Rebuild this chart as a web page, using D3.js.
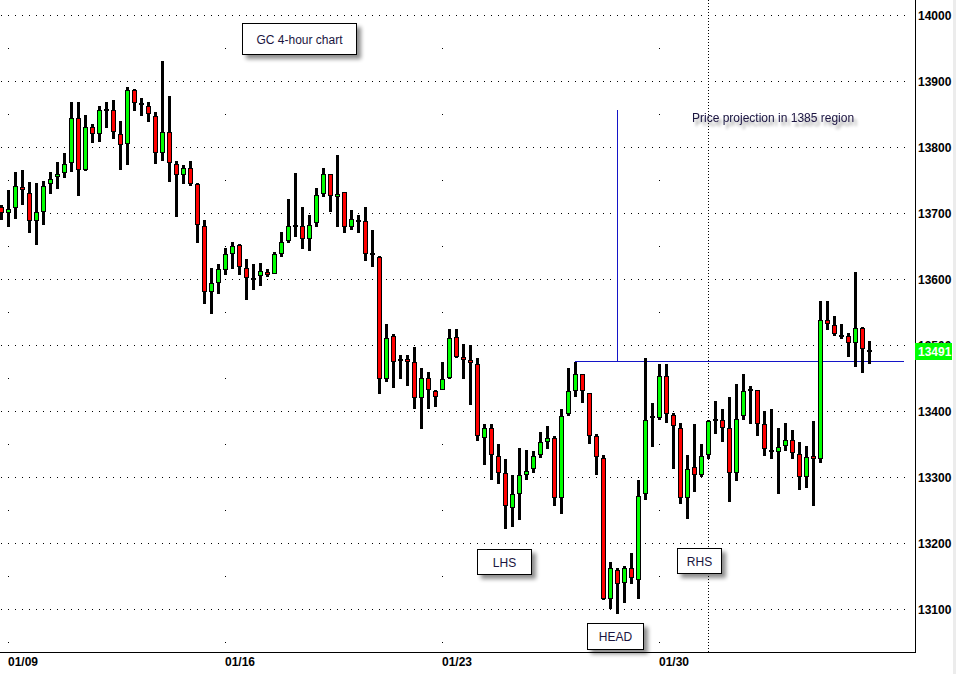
<!DOCTYPE html>
<html><head><meta charset="utf-8">
<script src="https://cdn.jsdelivr.net/npm/d3@7/dist/d3.min.js"></script>
<style>body{margin:0;background:#fff;} svg{display:block;}</style>
</head><body><svg id="c" width="956" height="674"></svg>
<script>
// ---- data (4-hour bars, index 0..124) ----
const open  = [13710,13700,13708,13740,13731,13688,13702,13744,13755,13761,13776,13844,13765,13831,13820,13857,13857,13820,13805,13887,13866,13863,13847,13791,13823,13775,13758,13769,13744,13680,13581,13594,13614,13638,13652,13617,13602,13605,13611,13608,13638,13658,13680,13680,13661,13685,13729,13759,13726,13732,13679,13689,13689,13638,13634,13449,13514,13477,13479,13474,13420,13450,13430,13432,13450,13512,13482,13477,13471,13360,13374,13333,13306,13254,13275,13304,13312,13334,13354,13360,13269,13396,13431,13456,13428,13362,13330,13116,13160,13140,13162,13145,13274,13392,13390,13454,13395,13375,13269,13315,13304,13334,13387,13387,13374,13307,13393,13433,13433,13380,13340,13339,13348,13356,13336,13301,13333,13327,13538,13530,13515,13514,13503,13526,13492];
const high  = [13712,13736,13763,13766,13748,13746,13749,13763,13778,13792,13869,13869,13849,13836,13862,13869,13872,13840,13892,13889,13875,13869,13854,13931,13877,13779,13773,13779,13746,13690,13617,13623,13647,13657,13654,13631,13623,13624,13616,13641,13671,13721,13761,13709,13698,13739,13768,13760,13789,13733,13705,13697,13709,13674,13636,13532,13517,13486,13486,13497,13465,13459,13432,13474,13524,13524,13502,13500,13480,13380,13380,13350,13328,13303,13345,13342,13340,13368,13377,13362,13403,13465,13475,13457,13428,13365,13334,13171,13163,13166,13186,13296,13480,13412,13471,13471,13398,13383,13334,13381,13350,13387,13416,13404,13421,13442,13456,13439,13433,13401,13403,13374,13383,13371,13353,13348,13385,13567,13567,13544,13533,13518,13611,13527,13506];
const low   = [13690,13679,13692,13712,13670,13652,13682,13730,13737,13753,13762,13726,13764,13807,13808,13829,13812,13765,13773,13855,13848,13838,13774,13780,13747,13694,13744,13741,13655,13563,13548,13578,13607,13616,13607,13569,13584,13590,13603,13608,13634,13655,13664,13646,13643,13679,13724,13702,13679,13670,13674,13670,13627,13619,13426,13444,13436,13449,13438,13404,13373,13404,13406,13432,13449,13480,13449,13409,13355,13319,13296,13290,13221,13224,13236,13296,13306,13330,13343,13257,13245,13393,13422,13413,13350,13304,13114,13100,13093,13109,13139,13115,13265,13346,13387,13383,13313,13260,13237,13277,13301,13328,13366,13354,13262,13295,13387,13381,13363,13333,13327,13275,13340,13328,13281,13284,13256,13321,13523,13514,13509,13482,13467,13458,13471];
const close = [13700,13707,13742,13735,13688,13702,13742,13752,13760,13775,13844,13765,13831,13820,13857,13856,13823,13804,13887,13867,13865,13850,13791,13823,13776,13758,13769,13744,13682,13581,13594,13615,13639,13650,13618,13602,13601,13612,13608,13638,13656,13680,13680,13661,13682,13727,13759,13726,13730,13679,13691,13689,13638,13638,13449,13511,13474,13477,13474,13420,13450,13432,13421,13449,13511,13483,13477,13473,13362,13375,13334,13307,13256,13274,13303,13309,13333,13353,13359,13269,13393,13430,13457,13430,13363,13331,13116,13162,13139,13163,13147,13272,13387,13392,13454,13396,13377,13269,13313,13304,13333,13386,13387,13375,13307,13389,13431,13433,13381,13343,13340,13346,13356,13337,13301,13331,13327,13538,13532,13517,13514,13503,13526,13494,13491];

const dateTickIndex  = [1, 32, 63, 94];
const dateTickLabels = ["01/09", "01/16", "01/23", "01/30"];
const priceTicks = [13100,13200,13300,13400,13500,13600,13700,13800,13900,14000];
const lastPrice = 13491;
const separatorIndex = 101;
const necklineValue = 13476, necklineFrom = 82, necklineTo = 129;
const projectionIndex = 88, projectionTop = 13856;
const boxLabels = ["GC 4-hour chart", "LHS", "HEAD", "RHS"];
const noteText = "Price projection in 1385 region";

// ---- scales ----
const x = d3.scaleLinear().domain([0, 130]).range([1, 911]);
const y = d3.scaleLinear().domain([13100, 14000]).range([609.3, 15.3]);
const X = i => Math.round(x(i));
const Y = v => Math.round(y(v));

const svg = d3.select("#c");
const defs = svg.append("defs");
const f = defs.append("filter").attr("id","sh").attr("x","-20%").attr("y","-30%").attr("width","150%").attr("height","180%");
f.append("feGaussianBlur").attr("in","SourceAlpha").attr("stdDeviation",2).attr("result","b");
f.append("feOffset").attr("in","b").attr("dx",4).attr("dy",4).attr("result","o");
f.append("feComponentTransfer").attr("in","o").attr("result","t").append("feFuncA").attr("type","linear").attr("slope",0.45);
const m = f.append("feMerge"); m.append("feMergeNode").attr("in","t"); m.append("feMergeNode").attr("in","SourceGraphic");
const f2 = defs.append("filter").attr("id","tsh").attr("x","-10%").attr("y","-50%").attr("width","120%").attr("height","220%");
f2.append("feGaussianBlur").attr("in","SourceAlpha").attr("stdDeviation",1.6).attr("result","b");
f2.append("feOffset").attr("in","b").attr("dx",3).attr("dy",4).attr("result","o");
f2.append("feComponentTransfer").attr("in","o").attr("result","t").append("feFuncA").attr("type","linear").attr("slope",0.4);
const m2 = f2.append("feMerge"); m2.append("feMergeNode").attr("in","t"); m2.append("feMergeNode").attr("in","SourceGraphic");

svg.append("rect").attr("x",953).attr("y",0).attr("width",3).attr("height",674).attr("fill","#ececec");

// ---- grid ----
const grid = svg.append("g").attr("shape-rendering","crispEdges");
priceTicks.forEach(v => {
  grid.append("line").attr("x1", X(0)).attr("x2", X(necklineTo)+1)
    .attr("y1", Y(v)+0.5).attr("y2", Y(v)+0.5)
    .attr("stroke","#000").attr("stroke-dasharray","1 6");
});
dateTickIndex.forEach(i => {
  for (let v = 13050; v < 14000; v += 100) {
    grid.append("rect").attr("x", X(i)).attr("y", Y(v)).attr("width",1).attr("height",1).attr("fill","#000");
  }
});
grid.append("line").attr("x1", X(separatorIndex)+0.5).attr("x2", X(separatorIndex)+0.5)
  .attr("y1",0).attr("y2",652).attr("stroke","#000").attr("stroke-dasharray","1 2");

// ---- blue projection lines ----
svg.append("line").attr("x1", X(necklineFrom)).attr("x2", X(necklineTo))
  .attr("y1", Y(necklineValue)+0.5).attr("y2", Y(necklineValue)+0.5)
  .attr("stroke","#1414c8").attr("shape-rendering","crispEdges");
svg.append("line").attr("x1", X(projectionIndex)+0.5).attr("x2", X(projectionIndex)+0.5)
  .attr("y1", Y(projectionTop)).attr("y2", Y(necklineValue))
  .attr("stroke","#1414c8").attr("shape-rendering","crispEdges");

// ---- candles ----
const cg = svg.append("g").attr("shape-rendering","crispEdges");
open.forEach((o, i) => {
  const c = close[i], cx = X(i);
  const hy = Y(high[i]), ly = Y(low[i]);
  cg.append("rect").attr("x", cx-1).attr("y", hy).attr("width",3).attr("height", Math.max(1, ly-hy)).attr("fill","#000");
  if (Math.abs(c - o) < 1.5) {
    cg.append("rect").attr("x", cx-2).attr("y", Y(c)-1).attr("width",5).attr("height",2).attr("fill","#000");
  } else {
    const top = Y(Math.max(o,c)), bot = Y(Math.min(o,c));
    const h = Math.max(3, bot-top);
    cg.append("rect").attr("x", cx-2).attr("y", top).attr("width",5).attr("height",h).attr("fill","#000");
    cg.append("rect").attr("x", cx-1).attr("y", top+1).attr("width",3).attr("height",h-2)
      .attr("fill", c > o ? "#00ff00" : "#ff0000");
  }
});

// ---- axes ----
const yAxis = d3.axisRight(y).tickValues(priceTicks).tickSize(0).tickPadding(3).tickFormat(d3.format("d"));
const ya = svg.append("g").attr("transform","translate(915,0)").call(yAxis);
ya.select(".domain").remove();
ya.selectAll("text").attr("fill","#000").style("font","bold 12px 'Liberation Sans', Arial, sans-serif");

const xAxis = d3.axisBottom(x).tickValues(dateTickIndex).tickSize(0).tickPadding(4)
  .tickFormat((d) => dateTickLabels[dateTickIndex.indexOf(d)]);
const xa = svg.append("g").attr("transform","translate(0,653)").call(xAxis);
xa.select(".domain").remove();
xa.selectAll("text").attr("fill","#000").attr("text-anchor","start")
  .attr("x", 0).style("font","bold 12px 'Liberation Sans', Arial, sans-serif");
xa.selectAll(".tick").attr("transform", d => `translate(${X(d)},0)`);

svg.append("line").attr("x1",0).attr("x2",915.5).attr("y1",652.5).attr("y2",652.5).attr("stroke","#000");
svg.append("line").attr("x1",915.5).attr("x2",915.5).attr("y1",0).attr("y2",653).attr("stroke","#000");

// last price marker
svg.append("rect").attr("x",915).attr("y",Y(lastPrice)-8).attr("width",37).attr("height",17).attr("fill","#00ff00");
svg.append("text").attr("x",918).attr("y",Y(lastPrice)+0.5).attr("dy","0.35em").attr("fill","#fff")
  .style("font","bold 12px 'Liberation Sans', Arial, sans-serif").text(lastPrice);

// ---- annotations ----
const boxes = [
  {t: boxLabels[0], x0: 242, y0: 23, w: 114, h: 31},
  {t: boxLabels[1], x0: 477, y0: 549, w: 54, h: 25},
  {t: boxLabels[2], x0: 587, y0: 623, w: 56, h: 26},
  {t: boxLabels[3], x0: 677, y0: 548, w: 44, h: 25}
];
boxes.forEach(b => {
  svg.append("rect").attr("x", b.x0+0.5).attr("y", b.y0+0.5).attr("width", b.w).attr("height", b.h)
    .attr("fill","#fff").attr("stroke","#000").attr("filter","url(#sh)");
  svg.append("text").attr("x", b.x0 + b.w/2 + 0.5).attr("y", b.y0 + b.h/2 + 1).attr("dy","0.35em")
    .attr("text-anchor","middle").attr("fill","#1a1440")
    .style("font","12px 'Liberation Sans', Arial, sans-serif").text(b.t);
});
svg.append("text").attr("x", 692).attr("y", 118).attr("dy","0.35em").attr("fill","#1a1440")
  .attr("filter","url(#tsh)")
  .style("font","12px 'Liberation Sans', Arial, sans-serif").text(noteText);
</script></body></html>
